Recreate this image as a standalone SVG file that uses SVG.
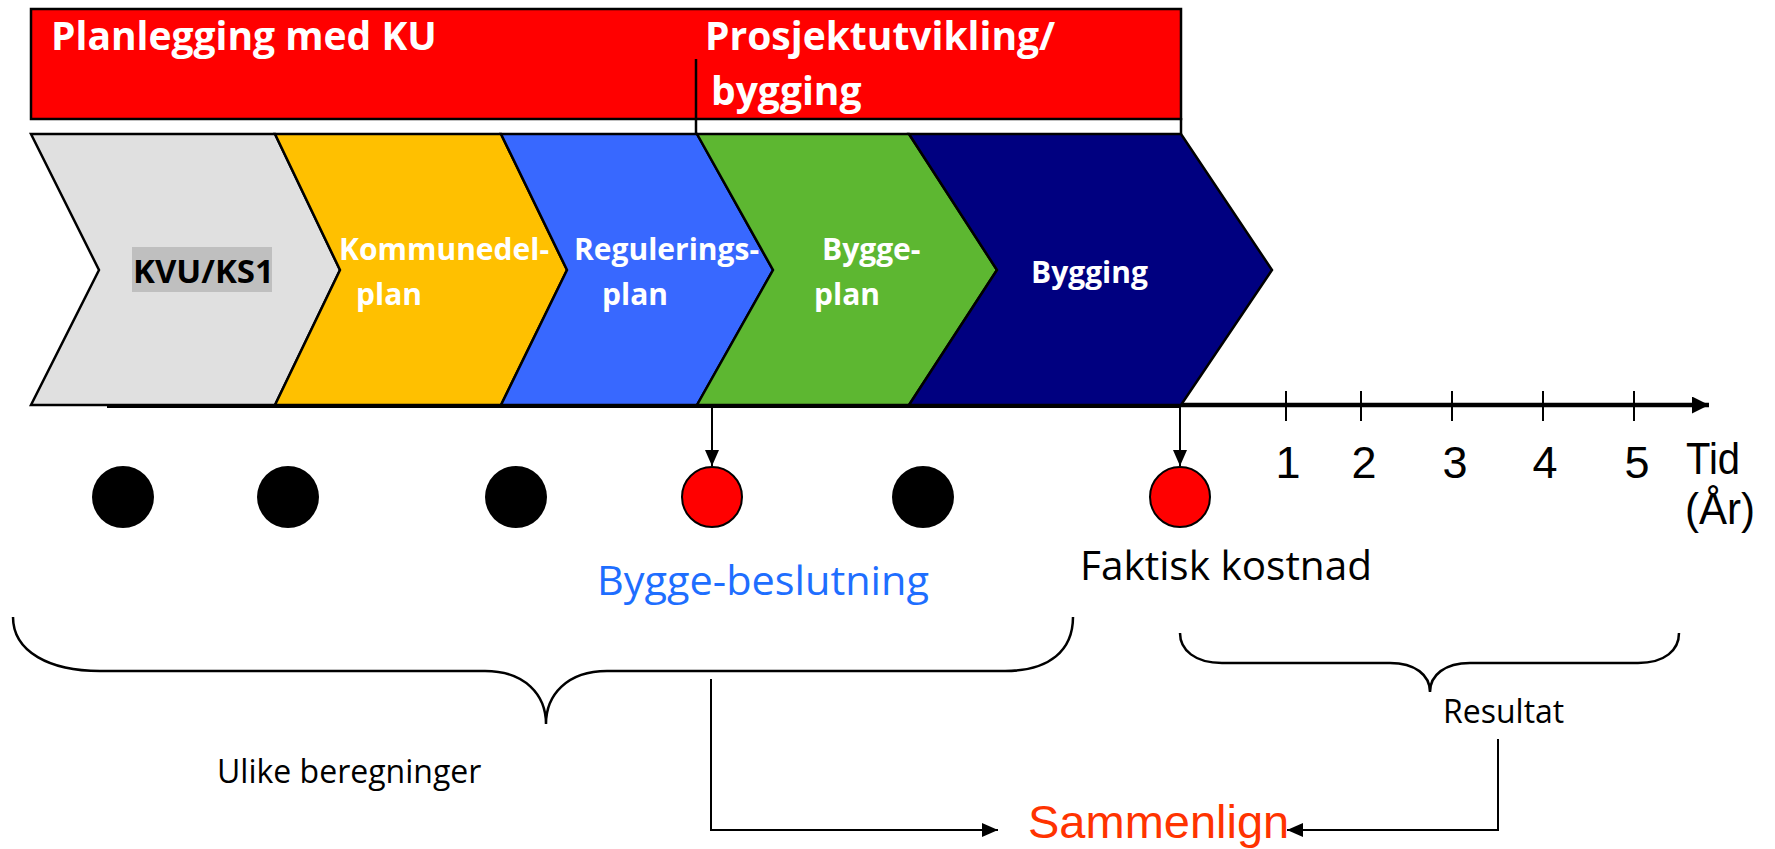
<svg xmlns="http://www.w3.org/2000/svg" width="1775" height="849" viewBox="0 0 1775 849">
<style>
.bar{fill:#FF0000;stroke:#000;stroke-width:2.5}
.chev{stroke:#000;stroke-width:2.5;stroke-linejoin:miter}
.hdr{font-family:"Open Sans","Noto Sans",sans-serif;font-weight:bold;font-size:39px;fill:#fff}
.lbl{font-family:"Open Sans","Noto Sans",sans-serif;font-weight:bold;font-size:30px;fill:#fff}
.num{font-family:"Liberation Sans",Arial,sans-serif;font-size:45px;fill:#000}
.body{font-family:"Open Sans","Noto Sans",sans-serif;font-size:40px}
.small{font-family:"Open Sans","Noto Sans",sans-serif;font-size:32px;fill:#000}
.brace{fill:none;stroke:#000;stroke-width:2.5}
.conn{fill:none;stroke:#000;stroke-width:2}
</style>
<defs>
<marker id="ah" markerWidth="16" markerHeight="14" refX="16" refY="7" orient="auto" markerUnits="userSpaceOnUse"><path d="M0,0 L16,7 L0,14 z" fill="#000"/></marker>
<marker id="ahBig" markerWidth="17" markerHeight="17" refX="17" refY="8.5" orient="auto" markerUnits="userSpaceOnUse"><path d="M0,0 L17,8.5 L0,17 z" fill="#000"/></marker>
</defs>

<g id="phase-bar">
<rect class="bar" x="31" y="9" width="1150" height="110"/>
<line x1="696" y1="59" x2="696" y2="134" stroke="#000" stroke-width="2.5"/>
<line x1="1181" y1="118" x2="1181" y2="134" stroke="#000" stroke-width="2.5"/>
<text class="hdr" x="51" y="50">Planlegging med KU</text>
<text class="hdr" x="705" y="50">Prosjektutvikling/</text>
<text class="hdr" x="711" y="105">bygging</text>
</g>

<g id="axis">
<line x1="107" y1="405" x2="1181" y2="405" stroke="#000" stroke-width="6"/>
<line x1="1181" y1="405" x2="1709" y2="405" stroke="#000" stroke-width="4.5" marker-end="url(#ahBig)"/>
<g stroke="#000" stroke-width="2">
<line x1="1286" y1="391" x2="1286" y2="421"/>
<line x1="1361" y1="391" x2="1361" y2="421"/>
<line x1="1452" y1="391" x2="1452" y2="421"/>
<line x1="1543" y1="391" x2="1543" y2="421"/>
<line x1="1634" y1="391" x2="1634" y2="421"/>
</g>
<g class="num" text-anchor="middle">
<text x="1288" y="478">1</text>
<text x="1364" y="478">2</text>
<text x="1455" y="478">3</text>
<text x="1545" y="478">4</text>
<text x="1637" y="478">5</text>
</g>
<text class="num" x="1686" y="474" textLength="54" lengthAdjust="spacingAndGlyphs">Tid</text>
<text class="num" x="1685" y="524" textLength="70" lengthAdjust="spacingAndGlyphs">(År)</text>
</g>

<g id="kvu">
<polygon class="chev" fill="#E0E0E0" points="31,134 275,134 340,270 275,405 31,405 99,270"/>
<rect x="132" y="247" width="140" height="45" fill="#BFBFBF"/>
<text x="133" y="283" font-family="Open Sans, Noto Sans, sans-serif" font-weight="bold" font-size="33" fill="#000">KVU/KS1</text>
</g>
<g id="kommunedelplan">
<polygon class="chev" fill="#FFC000" points="275,134 501,134 567,270 501,405 275,405 340,270"/>
<text class="lbl" x="339" y="260">Kommunedel-</text>
<text class="lbl" x="356" y="305">plan</text>
</g>
<g id="reguleringsplan">
<polygon class="chev" fill="#3868FF" points="501,134 697,134 773,270 697,405 501,405 567,270"/>
<text class="lbl" x="574" y="260">Regulerings-</text>
<text class="lbl" x="602" y="305">plan</text>
</g>
<g id="byggeplan">
<polygon class="chev" fill="#5DB731" points="697,134 909,134 997,270 909,405 697,405 773,270"/>
<text class="lbl" x="822" y="260">Bygge-</text>
<text class="lbl" x="814" y="305">plan</text>
</g>
<g id="bygging">
<polygon class="chev" fill="#000080" points="909,134 1181,134 1272,270 1181,405 909,405 997,270"/>
<text class="lbl" x="1031" y="283">Bygging</text>
</g>

<g id="milestones">
<circle cx="123" cy="497" r="31" fill="#000"/>
<circle cx="288" cy="497" r="31" fill="#000"/>
<circle cx="516" cy="497" r="31" fill="#000"/>
<circle cx="923" cy="497" r="31" fill="#000"/>
</g>
<g id="byggebeslutning">
<circle cx="712" cy="497" r="30" fill="#FF0000" stroke="#000" stroke-width="2"/>
<text class="body" x="597" y="595" fill="#1E6EFF" textLength="332" lengthAdjust="spacingAndGlyphs">Bygge-beslutning</text>
</g>
<g id="faktisk-kostnad">
<circle cx="1180" cy="497" r="30" fill="#FF0000" stroke="#000" stroke-width="2"/>
<text class="body" x="1080" y="580" fill="#000" textLength="292" lengthAdjust="spacingAndGlyphs">Faktisk kostnad</text>
</g>

<g id="ulike-beregninger">
<path class="brace" d="M13,617 C13,652 50,671 100,671 L485,671 C525,671 546,695 546,724 C546,695 567,671 607,671 L1005,671 C1050,671 1073,650 1073,617"/>
<text class="small" x="217" y="783">Ulike beregninger</text>
</g>
<g id="resultat">
<path class="brace" d="M1180,633 C1180,650 1195,663 1222,663 L1390,663 C1415,663 1430,675 1430,692 C1430,675 1445,663 1470,663 L1638,663 C1665,663 1679,650 1679,633"/>
<text class="small" x="1443" y="723">Resultat</text>
</g>
<g id="sammenlign">
<text x="1028" y="838" font-family="Liberation Sans, Arial, sans-serif" font-size="47" fill="#FF3300">Sammenlign</text>
</g>

<g id="connectors">
<line class="conn" x1="712" y1="405" x2="712" y2="466" marker-end="url(#ah)"/>
<line class="conn" x1="1180" y1="405" x2="1180" y2="466" marker-end="url(#ah)"/>
<polyline class="conn" points="711,679 711,830 998,830" marker-end="url(#ah)"/>
<polyline class="conn" points="1498,739 1498,830 1287,830" marker-end="url(#ah)"/>
</g>
</svg>
